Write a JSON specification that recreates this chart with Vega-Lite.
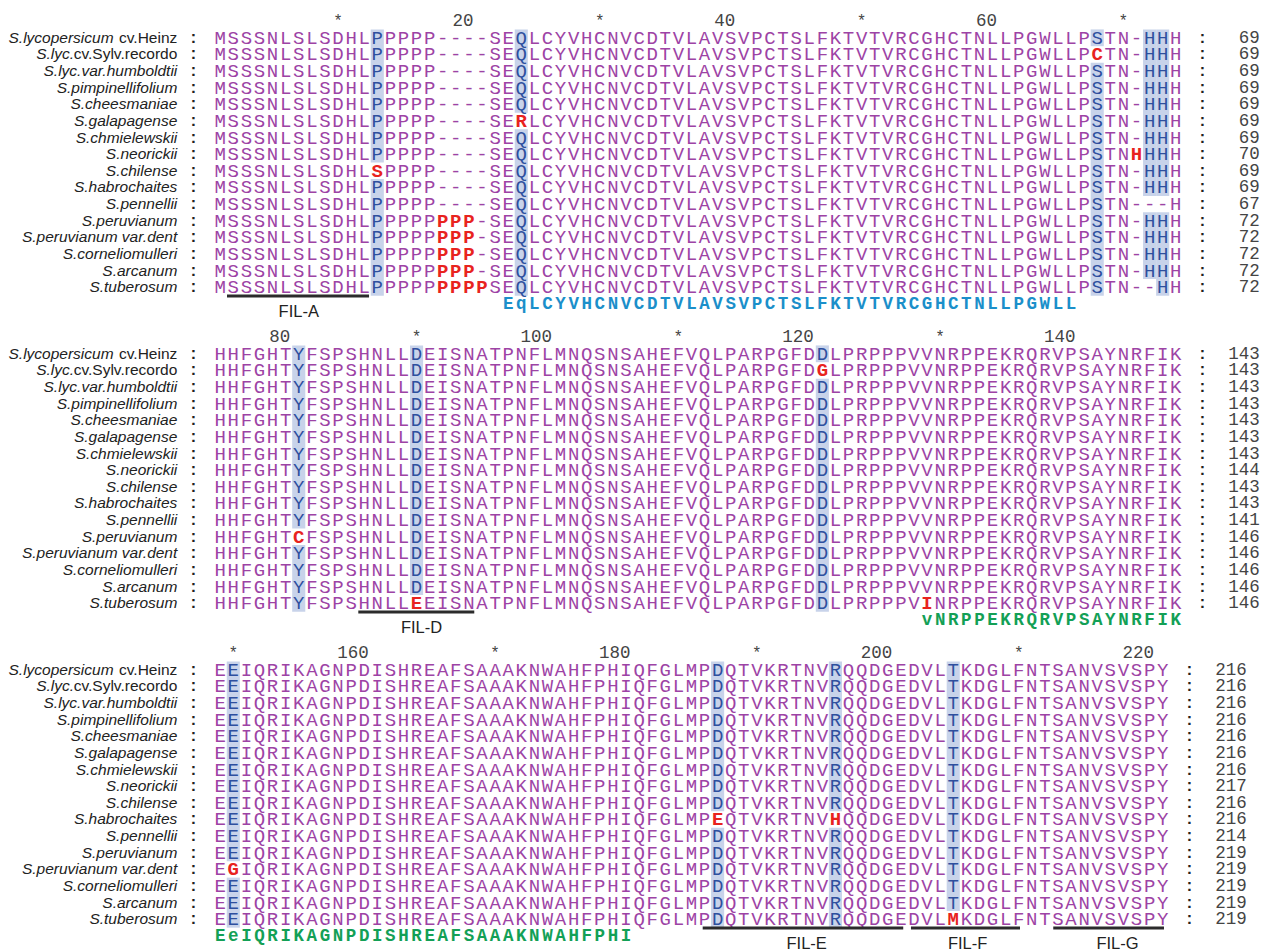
{
"$schema":"https://vega.github.io/schema/vega-lite/v6.json",
"padding":0,
"background":"white",
"config":{"view":{"stroke":null}},
"data":{"values":[
{"k":"cp","b":1,"x":0,"s":"M,M,M,M,M,M,M,M,M,M,M,M,M,M,M,M"},
{"k":"cp","b":1,"x":1,"s":"S,S,S,S,S,S,S,S,S,S,S,S,S,S,S,S"},
{"k":"cp","b":1,"x":2,"s":"S,S,S,S,S,S,S,S,S,S,S,S,S,S,S,S"},
{"k":"cp","b":1,"x":3,"s":"S,S,S,S,S,S,S,S,S,S,S,S,S,S,S,S"},
{"k":"cp","b":1,"x":4,"s":"N,N,N,N,N,N,N,N,N,N,N,N,N,N,N,N"},
{"k":"cp","b":1,"x":5,"s":"L,L,L,L,L,L,L,L,L,L,L,L,L,L,L,L"},
{"k":"cp","b":1,"x":6,"s":"S,S,S,S,S,S,S,S,S,S,S,S,S,S,S,S"},
{"k":"cp","b":1,"x":7,"s":"L,L,L,L,L,L,L,L,L,L,L,L,L,L,L,L"},
{"k":"cp","b":1,"x":8,"s":"S,S,S,S,S,S,S,S,S,S,S,S,S,S,S,S"},
{"k":"cp","b":1,"x":9,"s":"D,D,D,D,D,D,D,D,D,D,D,D,D,D,D,D"},
{"k":"cp","b":1,"x":10,"s":"H,H,H,H,H,H,H,H,H,H,H,H,H,H,H,H"},
{"k":"cp","b":1,"x":11,"s":"L,L,L,L,L,L,L,L,L,L,L,L,L,L,L,L"},
{"k":"cb","b":1,"x":12,"s":"P,P,P,P,P,P,P,P,\u200b,P,P,P,P,P,P,P"},
{"k":"cr","b":1,"x":12,"s":"\u200b,\u200b,\u200b,\u200b,\u200b,\u200b,\u200b,\u200b,S"},
{"k":"cp","b":1,"x":13,"s":"P,P,P,P,P,P,P,P,P,P,P,P,P,P,P,P"},
{"k":"cp","b":1,"x":14,"s":"P,P,P,P,P,P,P,P,P,P,P,P,P,P,P,P"},
{"k":"cp","b":1,"x":15,"s":"P,P,P,P,P,P,P,P,P,P,P,P,P,P,P,P"},
{"k":"cp","b":1,"x":16,"s":"P,P,P,P,P,P,P,P,P,P,P,P,P,P,P,P"},
{"k":"cp","b":1,"x":17,"s":"-,-,-,-,-,-,-,-,-,-,-"},
{"k":"cr","b":1,"x":17,"s":"\u200b,\u200b,\u200b,\u200b,\u200b,\u200b,\u200b,\u200b,\u200b,\u200b,\u200b,P,P,P,P,P"},
{"k":"cp","b":1,"x":18,"s":"-,-,-,-,-,-,-,-,-,-,-"},
{"k":"cr","b":1,"x":18,"s":"\u200b,\u200b,\u200b,\u200b,\u200b,\u200b,\u200b,\u200b,\u200b,\u200b,\u200b,P,P,P,P,P"},
{"k":"cp","b":1,"x":19,"s":"-,-,-,-,-,-,-,-,-,-,-"},
{"k":"cr","b":1,"x":19,"s":"\u200b,\u200b,\u200b,\u200b,\u200b,\u200b,\u200b,\u200b,\u200b,\u200b,\u200b,P,P,P,P,P"},
{"k":"cp","b":1,"x":20,"s":"-,-,-,-,-,-,-,-,-,-,-,-,-,-,-"},
{"k":"cr","b":1,"x":20,"s":"\u200b,\u200b,\u200b,\u200b,\u200b,\u200b,\u200b,\u200b,\u200b,\u200b,\u200b,\u200b,\u200b,\u200b,\u200b,P"},
{"k":"cp","b":1,"x":21,"s":"S,S,S,S,S,S,S,S,S,S,S,S,S,S,S,S"},
{"k":"cp","b":1,"x":22,"s":"E,E,E,E,E,E,E,E,E,E,E,E,E,E,E,E"},
{"k":"cb","b":1,"x":23,"s":"Q,Q,Q,Q,Q,\u200b,Q,Q,Q,Q,Q,Q,Q,Q,Q,Q"},
{"k":"cr","b":1,"x":23,"s":"\u200b,\u200b,\u200b,\u200b,\u200b,R"},
{"k":"cp","b":1,"x":24,"s":"L,L,L,L,L,L,L,L,L,L,L,L,L,L,L,L"},
{"k":"cp","b":1,"x":25,"s":"C,C,C,C,C,C,C,C,C,C,C,C,C,C,C,C"},
{"k":"cp","b":1,"x":26,"s":"Y,Y,Y,Y,Y,Y,Y,Y,Y,Y,Y,Y,Y,Y,Y,Y"},
{"k":"cp","b":1,"x":27,"s":"V,V,V,V,V,V,V,V,V,V,V,V,V,V,V,V"},
{"k":"cp","b":1,"x":28,"s":"H,H,H,H,H,H,H,H,H,H,H,H,H,H,H,H"},
{"k":"cp","b":1,"x":29,"s":"C,C,C,C,C,C,C,C,C,C,C,C,C,C,C,C"},
{"k":"cp","b":1,"x":30,"s":"N,N,N,N,N,N,N,N,N,N,N,N,N,N,N,N"},
{"k":"cp","b":1,"x":31,"s":"V,V,V,V,V,V,V,V,V,V,V,V,V,V,V,V"},
{"k":"cp","b":1,"x":32,"s":"C,C,C,C,C,C,C,C,C,C,C,C,C,C,C,C"},
{"k":"cp","b":1,"x":33,"s":"D,D,D,D,D,D,D,D,D,D,D,D,D,D,D,D"},
{"k":"cp","b":1,"x":34,"s":"T,T,T,T,T,T,T,T,T,T,T,T,T,T,T,T"},
{"k":"cp","b":1,"x":35,"s":"V,V,V,V,V,V,V,V,V,V,V,V,V,V,V,V"},
{"k":"cp","b":1,"x":36,"s":"L,L,L,L,L,L,L,L,L,L,L,L,L,L,L,L"},
{"k":"cp","b":1,"x":37,"s":"A,A,A,A,A,A,A,A,A,A,A,A,A,A,A,A"},
{"k":"cp","b":1,"x":38,"s":"V,V,V,V,V,V,V,V,V,V,V,V,V,V,V,V"},
{"k":"cp","b":1,"x":39,"s":"S,S,S,S,S,S,S,S,S,S,S,S,S,S,S,S"},
{"k":"cp","b":1,"x":40,"s":"V,V,V,V,V,V,V,V,V,V,V,V,V,V,V,V"},
{"k":"cp","b":1,"x":41,"s":"P,P,P,P,P,P,P,P,P,P,P,P,P,P,P,P"},
{"k":"cp","b":1,"x":42,"s":"C,C,C,C,C,C,C,C,C,C,C,C,C,C,C,C"},
{"k":"cp","b":1,"x":43,"s":"T,T,T,T,T,T,T,T,T,T,T,T,T,T,T,T"},
{"k":"cp","b":1,"x":44,"s":"S,S,S,S,S,S,S,S,S,S,S,S,S,S,S,S"},
{"k":"cp","b":1,"x":45,"s":"L,L,L,L,L,L,L,L,L,L,L,L,L,L,L,L"},
{"k":"cp","b":1,"x":46,"s":"F,F,F,F,F,F,F,F,F,F,F,F,F,F,F,F"},
{"k":"cp","b":1,"x":47,"s":"K,K,K,K,K,K,K,K,K,K,K,K,K,K,K,K"},
{"k":"cp","b":1,"x":48,"s":"T,T,T,T,T,T,T,T,T,T,T,T,T,T,T,T"},
{"k":"cp","b":1,"x":49,"s":"V,V,V,V,V,V,V,V,V,V,V,V,V,V,V,V"},
{"k":"cp","b":1,"x":50,"s":"T,T,T,T,T,T,T,T,T,T,T,T,T,T,T,T"},
{"k":"cp","b":1,"x":51,"s":"V,V,V,V,V,V,V,V,V,V,V,V,V,V,V,V"},
{"k":"cp","b":1,"x":52,"s":"R,R,R,R,R,R,R,R,R,R,R,R,R,R,R,R"},
{"k":"cp","b":1,"x":53,"s":"C,C,C,C,C,C,C,C,C,C,C,C,C,C,C,C"},
{"k":"cp","b":1,"x":54,"s":"G,G,G,G,G,G,G,G,G,G,G,G,G,G,G,G"},
{"k":"cp","b":1,"x":55,"s":"H,H,H,H,H,H,H,H,H,H,H,H,H,H,H,H"},
{"k":"cp","b":1,"x":56,"s":"C,C,C,C,C,C,C,C,C,C,C,C,C,C,C,C"},
{"k":"cp","b":1,"x":57,"s":"T,T,T,T,T,T,T,T,T,T,T,T,T,T,T,T"},
{"k":"cp","b":1,"x":58,"s":"N,N,N,N,N,N,N,N,N,N,N,N,N,N,N,N"},
{"k":"cp","b":1,"x":59,"s":"L,L,L,L,L,L,L,L,L,L,L,L,L,L,L,L"},
{"k":"cp","b":1,"x":60,"s":"L,L,L,L,L,L,L,L,L,L,L,L,L,L,L,L"},
{"k":"cp","b":1,"x":61,"s":"P,P,P,P,P,P,P,P,P,P,P,P,P,P,P,P"},
{"k":"cp","b":1,"x":62,"s":"G,G,G,G,G,G,G,G,G,G,G,G,G,G,G,G"},
{"k":"cp","b":1,"x":63,"s":"W,W,W,W,W,W,W,W,W,W,W,W,W,W,W,W"},
{"k":"cp","b":1,"x":64,"s":"L,L,L,L,L,L,L,L,L,L,L,L,L,L,L,L"},
{"k":"cp","b":1,"x":65,"s":"L,L,L,L,L,L,L,L,L,L,L,L,L,L,L,L"},
{"k":"cp","b":1,"x":66,"s":"P,P,P,P,P,P,P,P,P,P,P,P,P,P,P,P"},
{"k":"cb","b":1,"x":67,"s":"S,\u200b,S,S,S,S,S,S,S,S,S,S,S,S,S,S"},
{"k":"cr","b":1,"x":67,"s":"\u200b,C"},
{"k":"cp","b":1,"x":68,"s":"T,T,T,T,T,T,T,T,T,T,T,T,T,T,T,T"},
{"k":"cp","b":1,"x":69,"s":"N,N,N,N,N,N,N,N,N,N,N,N,N,N,N,N"},
{"k":"cp","b":1,"x":70,"s":"-,-,-,-,-,-,-,\u200b,-,-,-,-,-,-,-,-"},
{"k":"cr","b":1,"x":70,"s":"\u200b,\u200b,\u200b,\u200b,\u200b,\u200b,\u200b,H"},
{"k":"cb","b":1,"x":71,"s":"H,H,H,H,H,H,H,H,H,H,\u200b,H,H,H,H"},
{"k":"cp","b":1,"x":71,"s":"\u200b,\u200b,\u200b,\u200b,\u200b,\u200b,\u200b,\u200b,\u200b,\u200b,-,\u200b,\u200b,\u200b,\u200b,-"},
{"k":"cb","b":1,"x":72,"s":"H,H,H,H,H,H,H,H,H,H,\u200b,H,H,H,H,H"},
{"k":"cp","b":1,"x":72,"s":"\u200b,\u200b,\u200b,\u200b,\u200b,\u200b,\u200b,\u200b,\u200b,\u200b,-"},
{"k":"cp","b":1,"x":73,"s":"H,H,H,H,H,H,H,H,H,H,H,H,H,H,H,H"},
{"k":"cp","b":2,"x":0,"s":"H,H,H,H,H,H,H,H,H,H,H,H,H,H,H,H"},
{"k":"cp","b":2,"x":1,"s":"H,H,H,H,H,H,H,H,H,H,H,H,H,H,H,H"},
{"k":"cp","b":2,"x":2,"s":"F,F,F,F,F,F,F,F,F,F,F,F,F,F,F,F"},
{"k":"cp","b":2,"x":3,"s":"G,G,G,G,G,G,G,G,G,G,G,G,G,G,G,G"},
{"k":"cp","b":2,"x":4,"s":"H,H,H,H,H,H,H,H,H,H,H,H,H,H,H,H"},
{"k":"cp","b":2,"x":5,"s":"T,T,T,T,T,T,T,T,T,T,T,T,T,T,T,T"},
{"k":"cb","b":2,"x":6,"s":"Y,Y,Y,Y,Y,Y,Y,Y,Y,Y,Y,\u200b,Y,Y,Y,Y"},
{"k":"cr","b":2,"x":6,"s":"\u200b,\u200b,\u200b,\u200b,\u200b,\u200b,\u200b,\u200b,\u200b,\u200b,\u200b,C"},
{"k":"cp","b":2,"x":7,"s":"F,F,F,F,F,F,F,F,F,F,F,F,F,F,F,F"},
{"k":"cp","b":2,"x":8,"s":"S,S,S,S,S,S,S,S,S,S,S,S,S,S,S,S"},
{"k":"cp","b":2,"x":9,"s":"P,P,P,P,P,P,P,P,P,P,P,P,P,P,P,P"},
{"k":"cp","b":2,"x":10,"s":"S,S,S,S,S,S,S,S,S,S,S,S,S,S,S,S"},
{"k":"cp","b":2,"x":11,"s":"H,H,H,H,H,H,H,H,H,H,H,H,H,H,H,H"},
{"k":"cp","b":2,"x":12,"s":"N,N,N,N,N,N,N,N,N,N,N,N,N,N,N,N"},
{"k":"cp","b":2,"x":13,"s":"L,L,L,L,L,L,L,L,L,L,L,L,L,L,L,L"},
{"k":"cp","b":2,"x":14,"s":"L,L,L,L,L,L,L,L,L,L,L,L,L,L,L,L"},
{"k":"cb","b":2,"x":15,"s":"D,D,D,D,D,D,D,D,D,D,D,D,D,D,D"},
{"k":"cr","b":2,"x":15,"s":"\u200b,\u200b,\u200b,\u200b,\u200b,\u200b,\u200b,\u200b,\u200b,\u200b,\u200b,\u200b,\u200b,\u200b,\u200b,E"},
{"k":"cp","b":2,"x":16,"s":"E,E,E,E,E,E,E,E,E,E,E,E,E,E,E,E"},
{"k":"cp","b":2,"x":17,"s":"I,I,I,I,I,I,I,I,I,I,I,I,I,I,I,I"},
{"k":"cp","b":2,"x":18,"s":"S,S,S,S,S,S,S,S,S,S,S,S,S,S,S,S"},
{"k":"cp","b":2,"x":19,"s":"N,N,N,N,N,N,N,N,N,N,N,N,N,N,N,N"},
{"k":"cp","b":2,"x":20,"s":"A,A,A,A,A,A,A,A,A,A,A,A,A,A,A,A"},
{"k":"cp","b":2,"x":21,"s":"T,T,T,T,T,T,T,T,T,T,T,T,T,T,T,T"},
{"k":"cp","b":2,"x":22,"s":"P,P,P,P,P,P,P,P,P,P,P,P,P,P,P,P"},
{"k":"cp","b":2,"x":23,"s":"N,N,N,N,N,N,N,N,N,N,N,N,N,N,N,N"},
{"k":"cp","b":2,"x":24,"s":"F,F,F,F,F,F,F,F,F,F,F,F,F,F,F,F"},
{"k":"cp","b":2,"x":25,"s":"L,L,L,L,L,L,L,L,L,L,L,L,L,L,L,L"},
{"k":"cp","b":2,"x":26,"s":"M,M,M,M,M,M,M,M,M,M,M,M,M,M,M,M"},
{"k":"cp","b":2,"x":27,"s":"N,N,N,N,N,N,N,N,N,N,N,N,N,N,N,N"},
{"k":"cp","b":2,"x":28,"s":"Q,Q,Q,Q,Q,Q,Q,Q,Q,Q,Q,Q,Q,Q,Q,Q"},
{"k":"cp","b":2,"x":29,"s":"S,S,S,S,S,S,S,S,S,S,S,S,S,S,S,S"},
{"k":"cp","b":2,"x":30,"s":"N,N,N,N,N,N,N,N,N,N,N,N,N,N,N,N"},
{"k":"cp","b":2,"x":31,"s":"S,S,S,S,S,S,S,S,S,S,S,S,S,S,S,S"},
{"k":"cp","b":2,"x":32,"s":"A,A,A,A,A,A,A,A,A,A,A,A,A,A,A,A"},
{"k":"cp","b":2,"x":33,"s":"H,H,H,H,H,H,H,H,H,H,H,H,H,H,H,H"},
{"k":"cp","b":2,"x":34,"s":"E,E,E,E,E,E,E,E,E,E,E,E,E,E,E,E"},
{"k":"cp","b":2,"x":35,"s":"F,F,F,F,F,F,F,F,F,F,F,F,F,F,F,F"},
{"k":"cp","b":2,"x":36,"s":"V,V,V,V,V,V,V,V,V,V,V,V,V,V,V,V"},
{"k":"cp","b":2,"x":37,"s":"Q,Q,Q,Q,Q,Q,Q,Q,Q,Q,Q,Q,Q,Q,Q,Q"},
{"k":"cp","b":2,"x":38,"s":"L,L,L,L,L,L,L,L,L,L,L,L,L,L,L,L"},
{"k":"cp","b":2,"x":39,"s":"P,P,P,P,P,P,P,P,P,P,P,P,P,P,P,P"},
{"k":"cp","b":2,"x":40,"s":"A,A,A,A,A,A,A,A,A,A,A,A,A,A,A,A"},
{"k":"cp","b":2,"x":41,"s":"R,R,R,R,R,R,R,R,R,R,R,R,R,R,R,R"},
{"k":"cp","b":2,"x":42,"s":"P,P,P,P,P,P,P,P,P,P,P,P,P,P,P,P"},
{"k":"cp","b":2,"x":43,"s":"G,G,G,G,G,G,G,G,G,G,G,G,G,G,G,G"},
{"k":"cp","b":2,"x":44,"s":"F,F,F,F,F,F,F,F,F,F,F,F,F,F,F,F"},
{"k":"cp","b":2,"x":45,"s":"D,D,D,D,D,D,D,D,D,D,D,D,D,D,D,D"},
{"k":"cb","b":2,"x":46,"s":"D,\u200b,D,D,D,D,D,D,D,D,D,D,D,D,D,D"},
{"k":"cr","b":2,"x":46,"s":"\u200b,G"},
{"k":"cp","b":2,"x":47,"s":"L,L,L,L,L,L,L,L,L,L,L,L,L,L,L,L"},
{"k":"cp","b":2,"x":48,"s":"P,P,P,P,P,P,P,P,P,P,P,P,P,P,P,P"},
{"k":"cp","b":2,"x":49,"s":"R,R,R,R,R,R,R,R,R,R,R,R,R,R,R,R"},
{"k":"cp","b":2,"x":50,"s":"P,P,P,P,P,P,P,P,P,P,P,P,P,P,P,P"},
{"k":"cp","b":2,"x":51,"s":"P,P,P,P,P,P,P,P,P,P,P,P,P,P,P,P"},
{"k":"cp","b":2,"x":52,"s":"P,P,P,P,P,P,P,P,P,P,P,P,P,P,P,P"},
{"k":"cp","b":2,"x":53,"s":"V,V,V,V,V,V,V,V,V,V,V,V,V,V,V,V"},
{"k":"cp","b":2,"x":54,"s":"V,V,V,V,V,V,V,V,V,V,V,V,V,V,V"},
{"k":"cr","b":2,"x":54,"s":"\u200b,\u200b,\u200b,\u200b,\u200b,\u200b,\u200b,\u200b,\u200b,\u200b,\u200b,\u200b,\u200b,\u200b,\u200b,I"},
{"k":"cp","b":2,"x":55,"s":"N,N,N,N,N,N,N,N,N,N,N,N,N,N,N,N"},
{"k":"cp","b":2,"x":56,"s":"R,R,R,R,R,R,R,R,R,R,R,R,R,R,R,R"},
{"k":"cp","b":2,"x":57,"s":"P,P,P,P,P,P,P,P,P,P,P,P,P,P,P,P"},
{"k":"cp","b":2,"x":58,"s":"P,P,P,P,P,P,P,P,P,P,P,P,P,P,P,P"},
{"k":"cp","b":2,"x":59,"s":"E,E,E,E,E,E,E,E,E,E,E,E,E,E,E,E"},
{"k":"cp","b":2,"x":60,"s":"K,K,K,K,K,K,K,K,K,K,K,K,K,K,K,K"},
{"k":"cp","b":2,"x":61,"s":"R,R,R,R,R,R,R,R,R,R,R,R,R,R,R,R"},
{"k":"cp","b":2,"x":62,"s":"Q,Q,Q,Q,Q,Q,Q,Q,Q,Q,Q,Q,Q,Q,Q,Q"},
{"k":"cp","b":2,"x":63,"s":"R,R,R,R,R,R,R,R,R,R,R,R,R,R,R,R"},
{"k":"cp","b":2,"x":64,"s":"V,V,V,V,V,V,V,V,V,V,V,V,V,V,V,V"},
{"k":"cp","b":2,"x":65,"s":"P,P,P,P,P,P,P,P,P,P,P,P,P,P,P,P"},
{"k":"cp","b":2,"x":66,"s":"S,S,S,S,S,S,S,S,S,S,S,S,S,S,S,S"},
{"k":"cp","b":2,"x":67,"s":"A,A,A,A,A,A,A,A,A,A,A,A,A,A,A,A"},
{"k":"cp","b":2,"x":68,"s":"Y,Y,Y,Y,Y,Y,Y,Y,Y,Y,Y,Y,Y,Y,Y,Y"},
{"k":"cp","b":2,"x":69,"s":"N,N,N,N,N,N,N,N,N,N,N,N,N,N,N,N"},
{"k":"cp","b":2,"x":70,"s":"R,R,R,R,R,R,R,R,R,R,R,R,R,R,R,R"},
{"k":"cp","b":2,"x":71,"s":"F,F,F,F,F,F,F,F,F,F,F,F,F,F,F,F"},
{"k":"cp","b":2,"x":72,"s":"I,I,I,I,I,I,I,I,I,I,I,I,I,I,I,I"},
{"k":"cp","b":2,"x":73,"s":"K,K,K,K,K,K,K,K,K,K,K,K,K,K,K,K"},
{"k":"cp","b":3,"x":0,"s":"E,E,E,E,E,E,E,E,E,E,E,E,E,E,E,E"},
{"k":"cb","b":3,"x":1,"s":"E,E,E,E,E,E,E,E,E,E,E,E,\u200b,E,E,E"},
{"k":"cr","b":3,"x":1,"s":"\u200b,\u200b,\u200b,\u200b,\u200b,\u200b,\u200b,\u200b,\u200b,\u200b,\u200b,\u200b,G"},
{"k":"cp","b":3,"x":2,"s":"I,I,I,I,I,I,I,I,I,I,I,I,I,I,I,I"},
{"k":"cp","b":3,"x":3,"s":"Q,Q,Q,Q,Q,Q,Q,Q,Q,Q,Q,Q,Q,Q,Q,Q"},
{"k":"cp","b":3,"x":4,"s":"R,R,R,R,R,R,R,R,R,R,R,R,R,R,R,R"},
{"k":"cp","b":3,"x":5,"s":"I,I,I,I,I,I,I,I,I,I,I,I,I,I,I,I"},
{"k":"cp","b":3,"x":6,"s":"K,K,K,K,K,K,K,K,K,K,K,K,K,K,K,K"},
{"k":"cp","b":3,"x":7,"s":"A,A,A,A,A,A,A,A,A,A,A,A,A,A,A,A"},
{"k":"cp","b":3,"x":8,"s":"G,G,G,G,G,G,G,G,G,G,G,G,G,G,G,G"},
{"k":"cp","b":3,"x":9,"s":"N,N,N,N,N,N,N,N,N,N,N,N,N,N,N,N"},
{"k":"cp","b":3,"x":10,"s":"P,P,P,P,P,P,P,P,P,P,P,P,P,P,P,P"},
{"k":"cp","b":3,"x":11,"s":"D,D,D,D,D,D,D,D,D,D,D,D,D,D,D,D"},
{"k":"cp","b":3,"x":12,"s":"I,I,I,I,I,I,I,I,I,I,I,I,I,I,I,I"},
{"k":"cp","b":3,"x":13,"s":"S,S,S,S,S,S,S,S,S,S,S,S,S,S,S,S"},
{"k":"cp","b":3,"x":14,"s":"H,H,H,H,H,H,H,H,H,H,H,H,H,H,H,H"},
{"k":"cp","b":3,"x":15,"s":"R,R,R,R,R,R,R,R,R,R,R,R,R,R,R,R"},
{"k":"cp","b":3,"x":16,"s":"E,E,E,E,E,E,E,E,E,E,E,E,E,E,E,E"},
{"k":"cp","b":3,"x":17,"s":"A,A,A,A,A,A,A,A,A,A,A,A,A,A,A,A"},
{"k":"cp","b":3,"x":18,"s":"F,F,F,F,F,F,F,F,F,F,F,F,F,F,F,F"},
{"k":"cp","b":3,"x":19,"s":"S,S,S,S,S,S,S,S,S,S,S,S,S,S,S,S"},
{"k":"cp","b":3,"x":20,"s":"A,A,A,A,A,A,A,A,A,A,A,A,A,A,A,A"},
{"k":"cp","b":3,"x":21,"s":"A,A,A,A,A,A,A,A,A,A,A,A,A,A,A,A"},
{"k":"cp","b":3,"x":22,"s":"A,A,A,A,A,A,A,A,A,A,A,A,A,A,A,A"},
{"k":"cp","b":3,"x":23,"s":"K,K,K,K,K,K,K,K,K,K,K,K,K,K,K,K"},
{"k":"cp","b":3,"x":24,"s":"N,N,N,N,N,N,N,N,N,N,N,N,N,N,N,N"},
{"k":"cp","b":3,"x":25,"s":"W,W,W,W,W,W,W,W,W,W,W,W,W,W,W,W"},
{"k":"cp","b":3,"x":26,"s":"A,A,A,A,A,A,A,A,A,A,A,A,A,A,A,A"},
{"k":"cp","b":3,"x":27,"s":"H,H,H,H,H,H,H,H,H,H,H,H,H,H,H,H"},
{"k":"cp","b":3,"x":28,"s":"F,F,F,F,F,F,F,F,F,F,F,F,F,F,F,F"},
{"k":"cp","b":3,"x":29,"s":"P,P,P,P,P,P,P,P,P,P,P,P,P,P,P,P"},
{"k":"cp","b":3,"x":30,"s":"H,H,H,H,H,H,H,H,H,H,H,H,H,H,H,H"},
{"k":"cp","b":3,"x":31,"s":"I,I,I,I,I,I,I,I,I,I,I,I,I,I,I,I"},
{"k":"cp","b":3,"x":32,"s":"Q,Q,Q,Q,Q,Q,Q,Q,Q,Q,Q,Q,Q,Q,Q,Q"},
{"k":"cp","b":3,"x":33,"s":"F,F,F,F,F,F,F,F,F,F,F,F,F,F,F,F"},
{"k":"cp","b":3,"x":34,"s":"G,G,G,G,G,G,G,G,G,G,G,G,G,G,G,G"},
{"k":"cp","b":3,"x":35,"s":"L,L,L,L,L,L,L,L,L,L,L,L,L,L,L,L"},
{"k":"cp","b":3,"x":36,"s":"M,M,M,M,M,M,M,M,M,M,M,M,M,M,M,M"},
{"k":"cp","b":3,"x":37,"s":"P,P,P,P,P,P,P,P,P,P,P,P,P,P,P,P"},
{"k":"cb","b":3,"x":38,"s":"D,D,D,D,D,D,D,D,D,\u200b,D,D,D,D,D,D"},
{"k":"cr","b":3,"x":38,"s":"\u200b,\u200b,\u200b,\u200b,\u200b,\u200b,\u200b,\u200b,\u200b,E"},
{"k":"cp","b":3,"x":39,"s":"Q,Q,Q,Q,Q,Q,Q,Q,Q,Q,Q,Q,Q,Q,Q,Q"},
{"k":"cp","b":3,"x":40,"s":"T,T,T,T,T,T,T,T,T,T,T,T,T,T,T,T"},
{"k":"cp","b":3,"x":41,"s":"V,V,V,V,V,V,V,V,V,V,V,V,V,V,V,V"},
{"k":"cp","b":3,"x":42,"s":"K,K,K,K,K,K,K,K,K,K,K,K,K,K,K,K"},
{"k":"cp","b":3,"x":43,"s":"R,R,R,R,R,R,R,R,R,R,R,R,R,R,R,R"},
{"k":"cp","b":3,"x":44,"s":"T,T,T,T,T,T,T,T,T,T,T,T,T,T,T,T"},
{"k":"cp","b":3,"x":45,"s":"N,N,N,N,N,N,N,N,N,N,N,N,N,N,N,N"},
{"k":"cp","b":3,"x":46,"s":"V,V,V,V,V,V,V,V,V,V,V,V,V,V,V,V"},
{"k":"cb","b":3,"x":47,"s":"R,R,R,R,R,R,R,R,R,\u200b,R,R,R,R,R,R"},
{"k":"cr","b":3,"x":47,"s":"\u200b,\u200b,\u200b,\u200b,\u200b,\u200b,\u200b,\u200b,\u200b,H"},
{"k":"cp","b":3,"x":48,"s":"Q,Q,Q,Q,Q,Q,Q,Q,Q,Q,Q,Q,Q,Q,Q,Q"},
{"k":"cp","b":3,"x":49,"s":"Q,Q,Q,Q,Q,Q,Q,Q,Q,Q,Q,Q,Q,Q,Q,Q"},
{"k":"cp","b":3,"x":50,"s":"D,D,D,D,D,D,D,D,D,D,D,D,D,D,D,D"},
{"k":"cp","b":3,"x":51,"s":"G,G,G,G,G,G,G,G,G,G,G,G,G,G,G,G"},
{"k":"cp","b":3,"x":52,"s":"E,E,E,E,E,E,E,E,E,E,E,E,E,E,E,E"},
{"k":"cp","b":3,"x":53,"s":"D,D,D,D,D,D,D,D,D,D,D,D,D,D,D,D"},
{"k":"cp","b":3,"x":54,"s":"V,V,V,V,V,V,V,V,V,V,V,V,V,V,V,V"},
{"k":"cp","b":3,"x":55,"s":"L,L,L,L,L,L,L,L,L,L,L,L,L,L,L,L"},
{"k":"cb","b":3,"x":56,"s":"T,T,T,T,T,T,T,T,T,T,T,T,T,T,T"},
{"k":"cr","b":3,"x":56,"s":"\u200b,\u200b,\u200b,\u200b,\u200b,\u200b,\u200b,\u200b,\u200b,\u200b,\u200b,\u200b,\u200b,\u200b,\u200b,M"},
{"k":"cp","b":3,"x":57,"s":"K,K,K,K,K,K,K,K,K,K,K,K,K,K,K,K"},
{"k":"cp","b":3,"x":58,"s":"D,D,D,D,D,D,D,D,D,D,D,D,D,D,D,D"},
{"k":"cp","b":3,"x":59,"s":"G,G,G,G,G,G,G,G,G,G,G,G,G,G,G,G"},
{"k":"cp","b":3,"x":60,"s":"L,L,L,L,L,L,L,L,L,L,L,L,L,L,L,L"},
{"k":"cp","b":3,"x":61,"s":"F,F,F,F,F,F,F,F,F,F,F,F,F,F,F,F"},
{"k":"cp","b":3,"x":62,"s":"N,N,N,N,N,N,N,N,N,N,N,N,N,N,N,N"},
{"k":"cp","b":3,"x":63,"s":"T,T,T,T,T,T,T,T,T,T,T,T,T,T,T,T"},
{"k":"cp","b":3,"x":64,"s":"S,S,S,S,S,S,S,S,S,S,S,S,S,S,S,S"},
{"k":"cp","b":3,"x":65,"s":"A,A,A,A,A,A,A,A,A,A,A,A,A,A,A,A"},
{"k":"cp","b":3,"x":66,"s":"N,N,N,N,N,N,N,N,N,N,N,N,N,N,N,N"},
{"k":"cp","b":3,"x":67,"s":"V,V,V,V,V,V,V,V,V,V,V,V,V,V,V,V"},
{"k":"cp","b":3,"x":68,"s":"S,S,S,S,S,S,S,S,S,S,S,S,S,S,S,S"},
{"k":"cp","b":3,"x":69,"s":"V,V,V,V,V,V,V,V,V,V,V,V,V,V,V,V"},
{"k":"cp","b":3,"x":70,"s":"S,S,S,S,S,S,S,S,S,S,S,S,S,S,S,S"},
{"k":"cp","b":3,"x":71,"s":"P,P,P,P,P,P,P,P,P,P,P,P,P,P,P,P"},
{"k":"cp","b":3,"x":72,"s":"Y,Y,Y,Y,Y,Y,Y,Y,Y,Y,Y,Y,Y,Y,Y,Y"},
{"k":"hl","b":1,"x":12,"y":0,"y2":7},{"k":"hl","b":1,"x":12,"y":9,"y2":15},
{"k":"hl","b":1,"x":23,"y":0,"y2":4},{"k":"hl","b":1,"x":23,"y":6,"y2":15},
{"k":"hl","b":1,"x":67,"y":0,"y2":0},{"k":"hl","b":1,"x":67,"y":2,"y2":15},
{"k":"hl","b":1,"x":71,"y":0,"y2":9},{"k":"hl","b":1,"x":71,"y":11,"y2":14},
{"k":"hl","b":1,"x":72,"y":0,"y2":9},{"k":"hl","b":1,"x":72,"y":11,"y2":15},
{"k":"hl","b":2,"x":6,"y":0,"y2":10},{"k":"hl","b":2,"x":6,"y":12,"y2":15},
{"k":"hl","b":2,"x":15,"y":0,"y2":14},
{"k":"hl","b":2,"x":46,"y":0,"y2":0},{"k":"hl","b":2,"x":46,"y":2,"y2":15},
{"k":"hl","b":3,"x":1,"y":0,"y2":11},{"k":"hl","b":3,"x":1,"y":13,"y2":15},
{"k":"hl","b":3,"x":38,"y":0,"y2":8},{"k":"hl","b":3,"x":38,"y":10,"y2":15},
{"k":"hl","b":3,"x":47,"y":0,"y2":8},{"k":"hl","b":3,"x":47,"y":10,"y2":15},
{"k":"hl","b":3,"x":56,"y":0,"y2":14},
{"k":"nm","b":1,"y":0,"s":"S.lycopersicum","u":"cv.Heinz","v":69,"e":74},
{"k":"nm","b":1,"y":1,"s":"S.lyc.","u":"cv.Sylv.recordo","v":69,"e":74},
{"k":"nm","b":1,"y":2,"s":"S.lyc.var.humboldtii","v":69,"e":74},
{"k":"nm","b":1,"y":3,"s":"S.pimpinellifolium","v":69,"e":74},
{"k":"nm","b":1,"y":4,"s":"S.cheesmaniae","v":69,"e":74},
{"k":"nm","b":1,"y":5,"s":"S.galapagense","v":69,"e":74},
{"k":"nm","b":1,"y":6,"s":"S.chmielewskii","v":69,"e":74},
{"k":"nm","b":1,"y":7,"s":"S.neorickii","v":70,"e":74},
{"k":"nm","b":1,"y":8,"s":"S.chilense","v":69,"e":74},
{"k":"nm","b":1,"y":9,"s":"S.habrochaites","v":69,"e":74},
{"k":"nm","b":1,"y":10,"s":"S.pennellii","v":67,"e":74},
{"k":"nm","b":1,"y":11,"s":"S.peruvianum","v":72,"e":74},
{"k":"nm","b":1,"y":12,"s":"S.peruvianum var.dent","v":72,"e":74},
{"k":"nm","b":1,"y":13,"s":"S.corneliomulleri","v":72,"e":74},
{"k":"nm","b":1,"y":14,"s":"S.arcanum","v":72,"e":74},
{"k":"nm","b":1,"y":15,"s":"S.tuberosum","v":72,"e":74},
{"k":"nm","b":2,"y":0,"s":"S.lycopersicum","u":"cv.Heinz","v":143,"e":74},
{"k":"nm","b":2,"y":1,"s":"S.lyc.","u":"cv.Sylv.recordo","v":143,"e":74},
{"k":"nm","b":2,"y":2,"s":"S.lyc.var.humboldtii","v":143,"e":74},
{"k":"nm","b":2,"y":3,"s":"S.pimpinellifolium","v":143,"e":74},
{"k":"nm","b":2,"y":4,"s":"S.cheesmaniae","v":143,"e":74},
{"k":"nm","b":2,"y":5,"s":"S.galapagense","v":143,"e":74},
{"k":"nm","b":2,"y":6,"s":"S.chmielewskii","v":143,"e":74},
{"k":"nm","b":2,"y":7,"s":"S.neorickii","v":144,"e":74},
{"k":"nm","b":2,"y":8,"s":"S.chilense","v":143,"e":74},
{"k":"nm","b":2,"y":9,"s":"S.habrochaites","v":143,"e":74},
{"k":"nm","b":2,"y":10,"s":"S.pennellii","v":141,"e":74},
{"k":"nm","b":2,"y":11,"s":"S.peruvianum","v":146,"e":74},
{"k":"nm","b":2,"y":12,"s":"S.peruvianum var.dent","v":146,"e":74},
{"k":"nm","b":2,"y":13,"s":"S.corneliomulleri","v":146,"e":74},
{"k":"nm","b":2,"y":14,"s":"S.arcanum","v":146,"e":74},
{"k":"nm","b":2,"y":15,"s":"S.tuberosum","v":146,"e":74},
{"k":"nm","b":3,"y":0,"s":"S.lycopersicum","u":"cv.Heinz","v":216,"e":73},
{"k":"nm","b":3,"y":1,"s":"S.lyc.","u":"cv.Sylv.recordo","v":216,"e":73},
{"k":"nm","b":3,"y":2,"s":"S.lyc.var.humboldtii","v":216,"e":73},
{"k":"nm","b":3,"y":3,"s":"S.pimpinellifolium","v":216,"e":73},
{"k":"nm","b":3,"y":4,"s":"S.cheesmaniae","v":216,"e":73},
{"k":"nm","b":3,"y":5,"s":"S.galapagense","v":216,"e":73},
{"k":"nm","b":3,"y":6,"s":"S.chmielewskii","v":216,"e":73},
{"k":"nm","b":3,"y":7,"s":"S.neorickii","v":217,"e":73},
{"k":"nm","b":3,"y":8,"s":"S.chilense","v":216,"e":73},
{"k":"nm","b":3,"y":9,"s":"S.habrochaites","v":216,"e":73},
{"k":"nm","b":3,"y":10,"s":"S.pennellii","v":214,"e":73},
{"k":"nm","b":3,"y":11,"s":"S.peruvianum","v":219,"e":73},
{"k":"nm","b":3,"y":12,"s":"S.peruvianum var.dent","v":219,"e":73},
{"k":"nm","b":3,"y":13,"s":"S.corneliomulleri","v":219,"e":73},
{"k":"nm","b":3,"y":14,"s":"S.arcanum","v":219,"e":73},
{"k":"nm","b":3,"y":15,"s":"S.tuberosum","v":219,"e":73},
{"k":"ra","b":1,"x":9,"s":"*"},{"k":"rn","b":1,"x":19,"s":"20"},{"k":"ra","b":1,"x":29,"s":"*"},{"k":"rn","b":1,"x":39,"s":"40"},{"k":"ra","b":1,"x":49,"s":"*"},{"k":"rn","b":1,"x":59,"s":"60"},{"k":"ra","b":1,"x":69,"s":"*"},
{"k":"rn","b":2,"x":5,"s":"80"},{"k":"ra","b":2,"x":15,"s":"*"},{"k":"rn","b":2,"x":25,"s":"100"},{"k":"ra","b":2,"x":35,"s":"*"},{"k":"rn","b":2,"x":45,"s":"120"},{"k":"ra","b":2,"x":55,"s":"*"},{"k":"rn","b":2,"x":65,"s":"140"},
{"k":"ra","b":3,"x":1,"s":"*"},{"k":"rn","b":3,"x":11,"s":"160"},{"k":"ra","b":3,"x":21,"s":"*"},{"k":"rn","b":3,"x":31,"s":"180"},{"k":"ra","b":3,"x":41,"s":"*"},{"k":"rn","b":3,"x":51,"s":"200"},{"k":"ra","b":3,"x":61,"s":"*"},{"k":"rn","b":3,"x":71,"s":"220"},
{"k":"cs","b":1,"x":22,"s":"E"},{"k":"cs","b":1,"x":23,"s":"q"},{"k":"cs","b":1,"x":24,"s":"L"},{"k":"cs","b":1,"x":25,"s":"C"},{"k":"cs","b":1,"x":26,"s":"Y"},{"k":"cs","b":1,"x":27,"s":"V"},{"k":"cs","b":1,"x":28,"s":"H"},{"k":"cs","b":1,"x":29,"s":"C"},{"k":"cs","b":1,"x":30,"s":"N"},{"k":"cs","b":1,"x":31,"s":"V"},{"k":"cs","b":1,"x":32,"s":"C"},{"k":"cs","b":1,"x":33,"s":"D"},{"k":"cs","b":1,"x":34,"s":"T"},{"k":"cs","b":1,"x":35,"s":"V"},{"k":"cs","b":1,"x":36,"s":"L"},{"k":"cs","b":1,"x":37,"s":"A"},{"k":"cs","b":1,"x":38,"s":"V"},{"k":"cs","b":1,"x":39,"s":"S"},{"k":"cs","b":1,"x":40,"s":"V"},{"k":"cs","b":1,"x":41,"s":"P"},{"k":"cs","b":1,"x":42,"s":"C"},{"k":"cs","b":1,"x":43,"s":"T"},{"k":"cs","b":1,"x":44,"s":"S"},{"k":"cs","b":1,"x":45,"s":"L"},{"k":"cs","b":1,"x":46,"s":"F"},{"k":"cs","b":1,"x":47,"s":"K"},{"k":"cs","b":1,"x":48,"s":"T"},{"k":"cs","b":1,"x":49,"s":"V"},{"k":"cs","b":1,"x":50,"s":"T"},{"k":"cs","b":1,"x":51,"s":"V"},{"k":"cs","b":1,"x":52,"s":"R"},{"k":"cs","b":1,"x":53,"s":"C"},{"k":"cs","b":1,"x":54,"s":"G"},{"k":"cs","b":1,"x":55,"s":"H"},{"k":"cs","b":1,"x":56,"s":"C"},{"k":"cs","b":1,"x":57,"s":"T"},{"k":"cs","b":1,"x":58,"s":"N"},{"k":"cs","b":1,"x":59,"s":"L"},{"k":"cs","b":1,"x":60,"s":"L"},{"k":"cs","b":1,"x":61,"s":"P"},{"k":"cs","b":1,"x":62,"s":"G"},{"k":"cs","b":1,"x":63,"s":"W"},{"k":"cs","b":1,"x":64,"s":"L"},{"k":"cs","b":1,"x":65,"s":"L"},
{"k":"cs","b":2,"x":54,"s":"v"},{"k":"cs","b":2,"x":55,"s":"N"},{"k":"cs","b":2,"x":56,"s":"R"},{"k":"cs","b":2,"x":57,"s":"P"},{"k":"cs","b":2,"x":58,"s":"P"},{"k":"cs","b":2,"x":59,"s":"E"},{"k":"cs","b":2,"x":60,"s":"K"},{"k":"cs","b":2,"x":61,"s":"R"},{"k":"cs","b":2,"x":62,"s":"Q"},{"k":"cs","b":2,"x":63,"s":"R"},{"k":"cs","b":2,"x":64,"s":"V"},{"k":"cs","b":2,"x":65,"s":"P"},{"k":"cs","b":2,"x":66,"s":"S"},{"k":"cs","b":2,"x":67,"s":"A"},{"k":"cs","b":2,"x":68,"s":"Y"},{"k":"cs","b":2,"x":69,"s":"N"},{"k":"cs","b":2,"x":70,"s":"R"},{"k":"cs","b":2,"x":71,"s":"F"},{"k":"cs","b":2,"x":72,"s":"I"},{"k":"cs","b":2,"x":73,"s":"K"},
{"k":"cs","b":3,"x":0,"s":"E"},{"k":"cs","b":3,"x":1,"s":"e"},{"k":"cs","b":3,"x":2,"s":"I"},{"k":"cs","b":3,"x":3,"s":"Q"},{"k":"cs","b":3,"x":4,"s":"R"},{"k":"cs","b":3,"x":5,"s":"I"},{"k":"cs","b":3,"x":6,"s":"K"},{"k":"cs","b":3,"x":7,"s":"A"},{"k":"cs","b":3,"x":8,"s":"G"},{"k":"cs","b":3,"x":9,"s":"N"},{"k":"cs","b":3,"x":10,"s":"P"},{"k":"cs","b":3,"x":11,"s":"D"},{"k":"cs","b":3,"x":12,"s":"I"},{"k":"cs","b":3,"x":13,"s":"S"},{"k":"cs","b":3,"x":14,"s":"H"},{"k":"cs","b":3,"x":15,"s":"R"},{"k":"cs","b":3,"x":16,"s":"E"},{"k":"cs","b":3,"x":17,"s":"A"},{"k":"cs","b":3,"x":18,"s":"F"},{"k":"cs","b":3,"x":19,"s":"S"},{"k":"cs","b":3,"x":20,"s":"A"},{"k":"cs","b":3,"x":21,"s":"A"},{"k":"cs","b":3,"x":22,"s":"A"},{"k":"cs","b":3,"x":23,"s":"K"},{"k":"cs","b":3,"x":24,"s":"N"},{"k":"cs","b":3,"x":25,"s":"W"},{"k":"cs","b":3,"x":26,"s":"A"},{"k":"cs","b":3,"x":27,"s":"H"},{"k":"cs","b":3,"x":28,"s":"F"},{"k":"cs","b":3,"x":29,"s":"P"},{"k":"cs","b":3,"x":30,"s":"H"},{"k":"cs","b":3,"x":31,"s":"I"},
{"k":"ln","b":1,"x":0.52,"x2":11.37},
{"k":"ln","b":2,"x":10.55,"x2":19.41},
{"k":"ln","b":3,"x":36.86,"x2":52.18},
{"k":"ln","b":3,"x":52.77,"x2":61.1},
{"k":"ln","b":3,"x":63.64,"x2":72.1},
{"k":"lb","b":1,"x":6.0,"s":"FIL-A"},
{"k":"lb","b":2,"x":15.38,"s":"FIL-D"},
{"k":"lb","b":3,"x":44.8,"s":"FIL-E"},
{"k":"lb","b":3,"x":57.1,"s":"FIL-F"},
{"k":"lb","b":3,"x":68.55,"s":"FIL-G"}
]},
"facet":{"row":{"field":"b","type":"ordinal","header":{"labels":false,"title":null,"labelPadding":0,"titlePadding":0}}},
"spacing":0,
"bounds":"flush",
"spec":{
"width":1269,
"height":316,
"layer":[
{"transform":[{"filter":"datum.k == 'hl'"}],
 "mark":{"type":"rect","color":"#c8d3ea","xOffset":-6.55,"x2Offset":6.55,"yOffset":-8.4,"y2Offset":8.4},
 "encoding":{
  "x":{"field":"x","type":"quantitative","scale":{"domain":[-16.822,80.122],"nice":false,"zero":false},"axis":null},
  "x2":{"field":"x"},
  "y":{"field":"y","type":"quantitative","scale":{"domain":[-2.273,16.727],"nice":false,"zero":false,"reverse":true},"axis":null},
  "y2":{"field":"y2"}}},
{"transform":[{"filter":"datum.k == 'cp'"}],
 "mark":{"type":"text","font":"Liberation Mono","fontSize":19,"color":"#9d43a5","lineBreak":",","lineHeight":16.63,"baseline":"middle","align":"center"},
 "encoding":{
  "x":{"field":"x","type":"quantitative","scale":{"domain":[-16.822,80.122],"nice":false,"zero":false},"axis":null},
  "y":{"datum":0,"type":"quantitative","scale":{"domain":[-2.273,16.727],"nice":false,"zero":false,"reverse":true},"axis":null},
  "text":{"field":"s","type":"nominal"}}},
{"transform":[{"filter":"datum.k == 'cb'"}],
 "mark":{"type":"text","font":"Liberation Mono","fontSize":19,"color":"#2e4f9e","lineBreak":",","lineHeight":16.63,"baseline":"middle","align":"center"},
 "encoding":{
  "x":{"field":"x","type":"quantitative","scale":{"domain":[-16.822,80.122],"nice":false,"zero":false},"axis":null},
  "y":{"datum":0,"type":"quantitative","scale":{"domain":[-2.273,16.727],"nice":false,"zero":false,"reverse":true},"axis":null},
  "text":{"field":"s","type":"nominal"}}},
{"transform":[{"filter":"datum.k == 'cr'"}],
 "mark":{"type":"text","font":"Liberation Mono","fontSize":19,"fontWeight":"bold","color":"#e8231e","lineBreak":",","lineHeight":16.63,"baseline":"middle","align":"center"},
 "encoding":{
  "x":{"field":"x","type":"quantitative","scale":{"domain":[-16.822,80.122],"nice":false,"zero":false},"axis":null},
  "y":{"datum":0,"type":"quantitative","scale":{"domain":[-2.273,16.727],"nice":false,"zero":false,"reverse":true},"axis":null},
  "text":{"field":"s","type":"nominal"}}},
{"transform":[{"filter":"datum.k == 'cs'"}],
 "mark":{"type":"text","font":"Liberation Mono","fontSize":17.5,"fontWeight":"bold","baseline":"middle","align":"center"},
 "encoding":{
  "x":{"field":"x","type":"quantitative","scale":{"domain":[-16.822,80.122],"nice":false,"zero":false},"axis":null},
  "y":{"datum":16,"type":"quantitative","scale":{"domain":[-2.273,16.727],"nice":false,"zero":false,"reverse":true},"axis":null},
  "text":{"field":"s","type":"nominal"},
  "color":{"field":"b","type":"nominal","scale":{"domain":[1,2,3],"range":["#1b8fca","#13a056","#13a056"]},"legend":null}}},
{"transform":[{"filter":"datum.k == 'nm' && !datum.u"}],
 "mark":{"type":"text","font":"Liberation Sans","fontSize":15.5,"fontStyle":"italic","color":"#222222","baseline":"middle","align":"right"},
 "encoding":{
  "x":{"datum":-3.277,"type":"quantitative","scale":{"domain":[-16.822,80.122],"nice":false,"zero":false},"axis":null},
  "y":{"field":"y","type":"quantitative","scale":{"domain":[-2.273,16.727],"nice":false,"zero":false,"reverse":true},"axis":null},
  "text":{"field":"s","type":"nominal"}}},
{"transform":[{"filter":"datum.k == 'nm' && datum.u"}],
 "mark":{"type":"text","font":"Liberation Sans","fontSize":15.5,"color":"#222222","baseline":"middle","align":"right"},
 "encoding":{
  "x":{"datum":-3.277,"type":"quantitative","scale":{"domain":[-16.822,80.122],"nice":false,"zero":false},"axis":null},
  "y":{"field":"y","type":"quantitative","scale":{"domain":[-2.273,16.727],"nice":false,"zero":false,"reverse":true},"axis":null},
  "text":{"field":"u","type":"nominal"}}},
{"transform":[{"filter":"datum.k == 'nm' && datum.u && datum.y == 0"}],
 "mark":{"type":"text","font":"Liberation Sans","fontSize":15.5,"fontStyle":"italic","color":"#222222","baseline":"middle","align":"right","dx":-63.7},
 "encoding":{
  "x":{"datum":-3.277,"type":"quantitative","scale":{"domain":[-16.822,80.122],"nice":false,"zero":false},"axis":null},
  "y":{"field":"y","type":"quantitative","scale":{"domain":[-2.273,16.727],"nice":false,"zero":false,"reverse":true},"axis":null},
  "text":{"field":"s","type":"nominal"}}},
{"transform":[{"filter":"datum.k == 'nm' && datum.u && datum.y == 1"}],
 "mark":{"type":"text","font":"Liberation Sans","fontSize":15.5,"fontStyle":"italic","color":"#222222","baseline":"middle","align":"right","dx":-103.2},
 "encoding":{
  "x":{"datum":-3.277,"type":"quantitative","scale":{"domain":[-16.822,80.122],"nice":false,"zero":false},"axis":null},
  "y":{"field":"y","type":"quantitative","scale":{"domain":[-2.273,16.727],"nice":false,"zero":false,"reverse":true},"axis":null},
  "text":{"field":"s","type":"nominal"}}},
{"transform":[{"filter":"datum.k == 'nm'"}],
 "mark":{"type":"text","font":"Liberation Sans","fontSize":16,"fontWeight":"bold","color":"#222222","baseline":"middle","align":"center","text":":"},
 "encoding":{
  "x":{"datum":-2.055,"type":"quantitative","scale":{"domain":[-16.822,80.122],"nice":false,"zero":false},"axis":null},
  "y":{"field":"y","type":"quantitative","scale":{"domain":[-2.273,16.727],"nice":false,"zero":false,"reverse":true},"axis":null}}},
{"transform":[{"filter":"datum.k == 'nm'"}],
 "mark":{"type":"text","font":"Liberation Sans","fontSize":16,"fontWeight":"bold","color":"#222222","baseline":"middle","align":"center","text":":","dx":13.6},
 "encoding":{
  "x":{"field":"e","type":"quantitative","scale":{"domain":[-16.822,80.122],"nice":false,"zero":false},"axis":null},
  "y":{"field":"y","type":"quantitative","scale":{"domain":[-2.273,16.727],"nice":false,"zero":false,"reverse":true},"axis":null}}},
{"transform":[{"filter":"datum.k == 'nm'"}],
 "mark":{"type":"text","font":"Liberation Mono","fontSize":17.5,"color":"#444444","baseline":"middle","align":"right","dx":71},
 "encoding":{
  "x":{"field":"e","type":"quantitative","scale":{"domain":[-16.822,80.122],"nice":false,"zero":false},"axis":null},
  "y":{"field":"y","type":"quantitative","scale":{"domain":[-2.273,16.727],"nice":false,"zero":false,"reverse":true},"axis":null},
  "text":{"field":"v","type":"nominal"}}},
{"transform":[{"filter":"datum.k == 'ra'"}],
 "mark":{"type":"text","font":"Liberation Mono","fontSize":16,"color":"#444444","baseline":"middle","align":"center"},
 "encoding":{
  "x":{"field":"x","type":"quantitative","scale":{"domain":[-16.822,80.122],"nice":false,"zero":false},"axis":null},
  "y":{"datum":-1,"type":"quantitative","scale":{"domain":[-2.273,16.727],"nice":false,"zero":false,"reverse":true},"axis":null},
  "text":{"field":"s","type":"nominal"}}},
{"transform":[{"filter":"datum.k == 'rn'"}],
 "mark":{"type":"text","font":"Liberation Mono","fontSize":17.5,"color":"#444444","baseline":"middle","align":"right","dx":4.5},
 "encoding":{
  "x":{"field":"x","type":"quantitative","scale":{"domain":[-16.822,80.122],"nice":false,"zero":false},"axis":null},
  "y":{"datum":-1,"type":"quantitative","scale":{"domain":[-2.273,16.727],"nice":false,"zero":false,"reverse":true},"axis":null},
  "text":{"field":"s","type":"nominal"}}},
{"transform":[{"filter":"datum.k == 'ln'"}],
 "mark":{"type":"rule","color":"#2b2b2b","strokeWidth":3},
 "encoding":{
  "x":{"field":"x","type":"quantitative","scale":{"domain":[-16.822,80.122],"nice":false,"zero":false},"axis":null},
  "x2":{"field":"x2"},
  "y":{"datum":15.53,"type":"quantitative","scale":{"domain":[-2.273,16.727],"nice":false,"zero":false,"reverse":true},"axis":null}}},
{"transform":[{"filter":"datum.k == 'lb'"}],
 "mark":{"type":"text","font":"Liberation Sans","fontSize":16.5,"color":"#222222","baseline":"middle","align":"center"},
 "encoding":{
  "x":{"field":"x","type":"quantitative","scale":{"domain":[-16.822,80.122],"nice":false,"zero":false},"axis":null},
  "y":{"datum":16.5,"type":"quantitative","scale":{"domain":[-2.273,16.727],"nice":false,"zero":false,"reverse":true},"axis":null},
  "text":{"field":"s","type":"nominal"}}}
]}
}
